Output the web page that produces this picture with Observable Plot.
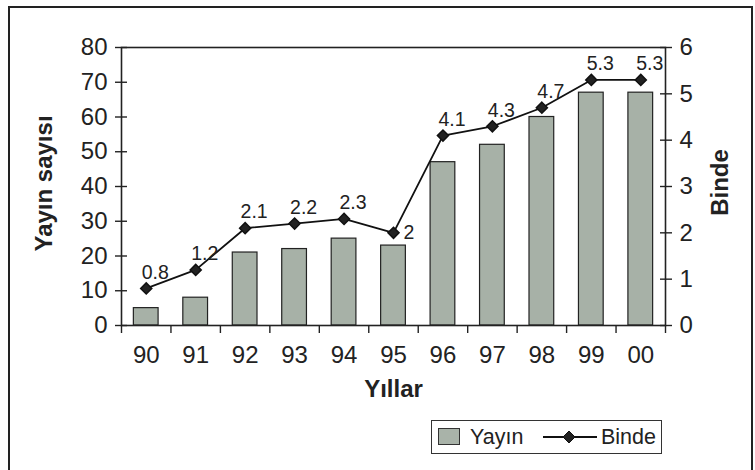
<!DOCTYPE html>
<html><head><meta charset="utf-8">
<script src="https://cdn.jsdelivr.net/npm/d3@7"></script>
<script src="https://cdn.jsdelivr.net/npm/@observablehq/plot@0.6"></script>
<style>
body{margin:0;background:#fff;overflow:hidden;}
#wrap{position:relative;width:755px;height:470px;overflow:hidden;font-family:"Liberation Sans",Arial,sans-serif;color:#222;}
#chart{position:absolute;left:0;top:0;}
#border{position:absolute;left:8px;top:6px;width:745px;height:490px;border:2px solid #222;box-sizing:border-box;}
#legend{position:absolute;left:431px;top:420px;width:231px;height:34px;border:1.5px solid #333;box-sizing:border-box;background:#fff;font-size:21.5px;}
#legend .sw{position:absolute;left:6px;top:7px;width:22px;height:17px;background:#a9b3a9;border:1px solid #333;box-sizing:border-box;}
#legend .t{position:absolute;top:0;line-height:32px;white-space:nowrap;}
#legend svg{position:absolute;left:111px;top:7px;}
</style></head>
<body><div id="wrap"><div id="border"></div><div id="chart"></div>
<div id="legend"><span class="sw"></span><span class="t" style="left:38px">Yayın</span>
<svg width="54" height="18"><line x1="0" y1="9" x2="54" y2="9" stroke="#111" stroke-width="1.8"/><path d="M26,3 L32,9 L26,15 L20,9 Z" fill="#222" stroke="#111"/></svg>
<span class="t" style="left:169px">Binde</span></div>
</div>
<script>
const years = ["90","91","92","93","94","95","96","97","98","99","00"];
const yayin = [5, 8, 21, 22, 25, 23, 47, 52, 60, 67, 67];
const binde = [0.8, 1.2, 2.1, 2.2, 2.3, 2, 4.1, 4.3, 4.7, 5.3, 5.3];
const leftTicks = [0, 10, 20, 30, 40, 50, 60, 70, 80];
const rightTicks = [0, 1, 2, 3, 4, 5, 6];
const leftTitle = "Yayın sayısı";
const rightTitle = "Binde";
const xTitle = "Yıllar";

const ratio = 80 / 6;
const data = years.map((y, i) => ({i, year: y, yayin: yayin[i], binde: binde[i]}));
const isRight = d => d.i > 0 && d.i < binde.length - 1 && d.binde < binde[d.i - 1] && d.binde < binde[d.i + 1];
const ink = "#222";

const plot = Plot.plot({
  width: 755, height: 470,
  marginTop: 47, marginBottom: 145, marginLeft: 121, marginRight: 90,
  style: {fontFamily: "Liberation Sans, Arial, sans-serif", fontSize: "24px", color: ink, background: "transparent"},
  x: {type: "linear", domain: [-0.5, years.length - 0.5]},
  y: {domain: [0, 80]},
  marks: [
    Plot.rectY(data, {x1: d => d.i - 0.25, x2: d => d.i + 0.25, y: "yayin", fill: "#a7b1a7", stroke: ink, strokeWidth: 1.2}),
    Plot.frame({stroke: ink, strokeWidth: 1.6}),
    Plot.axisY(leftTicks, {anchor: "left", tickSize: 12, dx: 6, tickPadding: 8, label: null, strokeWidth: 1.4}),
    Plot.axisY(rightTicks.map(v => v * ratio), {anchor: "right", tickSize: 12, dx: -6, tickPadding: 8, tickFormat: v => d3.format("~g")(Math.round(v / ratio * 10) / 10), label: null, strokeWidth: 1.4}),
    Plot.axisX(d3.range(years.length + 1).map(i => i - 0.5), {anchor: "bottom", tickSize: 8, tickFormat: () => "", label: null, strokeWidth: 1.4}),
    Plot.axisX(d3.range(years.length), {anchor: "bottom", tickSize: 0, tickPadding: 20, tickFormat: i => years[i], label: null}),
    Plot.line(data, {x: "i", y: d => d.binde * ratio, stroke: "#111", strokeWidth: 1.8}),
    Plot.dot(data, {x: "i", y: d => d.binde * ratio, symbol: "diamond2", r: 5, fill: "#222", stroke: "#111"}),
    Plot.text(data.filter(d => !isRight(d)), {x: "i", y: d => d.binde * ratio, text: d => String(d.binde), dx: 9, dy: -16, fontSize: 19.5}),
    Plot.text(data.filter(isRight), {x: "i", y: d => d.binde * ratio, text: d => String(d.binde), textAnchor: "start", dx: 10, fontSize: 19.5}),
    Plot.text([leftTitle], {frameAnchor: "left", textAnchor: "middle", lineAnchor: "middle", rotate: -90, dx: -77, dy: -3, fontWeight: "bold", fontSize: 24}),
    Plot.text([rightTitle], {frameAnchor: "right", textAnchor: "middle", lineAnchor: "middle", rotate: -90, dx: 55, dy: -4, fontWeight: "bold", fontSize: 24}),
    Plot.text([xTitle], {frameAnchor: "bottom", textAnchor: "middle", lineAnchor: "middle", dy: 64, fontWeight: "bold", fontSize: 24})
  ]
});
document.getElementById("chart").appendChild(plot);
</script>
</body></html>
